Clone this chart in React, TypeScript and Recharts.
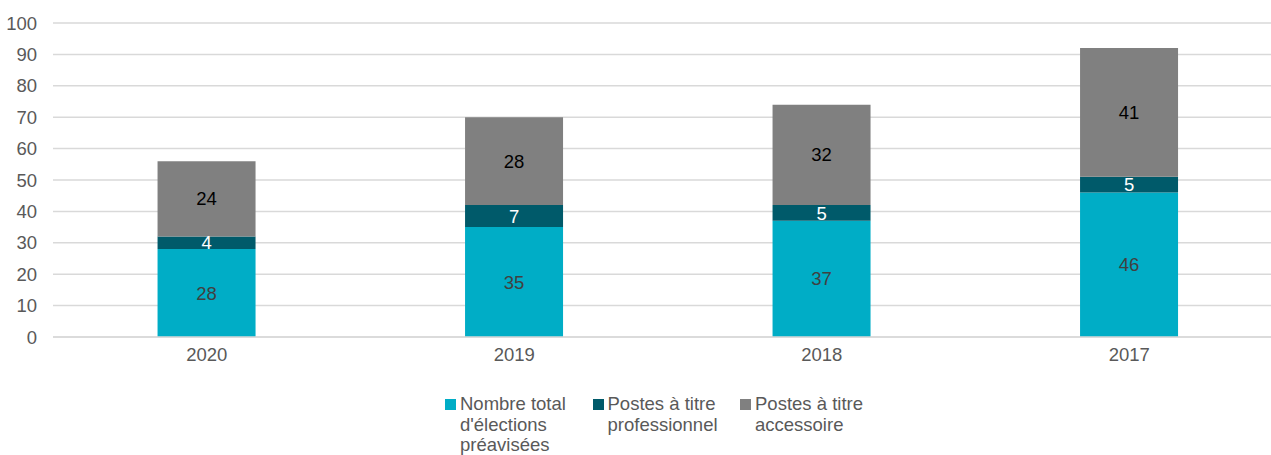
import { Bar, BarChart, CartesianGrid, LabelList, XAxis, YAxis } from 'recharts'

const years = ['2020', '2019', '2018', '2017']
const totalElections = [28, 35, 37, 46]
const professionnel = [4, 7, 5, 5]
const accessoire = [24, 28, 32, 41]
const yTicks = [0, 10, 20, 30, 40, 50, 60, 70, 80, 90, 100]

const series = [
  { key: 'total', name: "Nombre total d'élections préavisées", color: '#00ADC6', label: '#404040' },
  { key: 'pro', name: 'Postes à titre professionnel', color: '#005A6A', label: '#FFFFFF' },
  { key: 'acc', name: 'Postes à titre accessoire', color: '#808080', label: '#000000' },
]

const data = years.map((year, i) => ({
  year,
  total: totalElections[i],
  pro: professionnel[i],
  acc: accessoire[i],
}))

const font = '"Liberation Sans", Arial, sans-serif'
const fs = 18.5

export default function App() {
  return (
    <div style={{ position: 'absolute', left: 0, top: 0, width: 1271, height: 455, overflow: 'hidden', background: '#fff', fontFamily: font }}>
      <BarChart width={1290} height={367} data={data} margin={{ top: 23, right: 7, bottom: 0, left: 0 }} barCategoryGap="34%">
        <CartesianGrid vertical={false} stroke="#D9D9D9" strokeWidth={1.5} />
        <XAxis
          dataKey="year"
          axisLine={{ stroke: '#D9D9D9', strokeWidth: 1.5 }}
          tickLine={false}
          tickSize={0}
          tickMargin={11}
          tick={{ fill: '#595959', fontSize: fs, fontFamily: font }}
        />
        <YAxis
          domain={[0, 100]}
          ticks={yTicks}
          width={53}
          axisLine={false}
          tickLine={false}
          tickSize={0}
          tickMargin={16}
          tick={{ fill: '#595959', fontSize: fs, fontFamily: font }}
        />
        {series.map((s) => (
          <Bar key={s.key} dataKey={s.key} name={s.name} stackId="a" fill={s.color} isAnimationActive={false}>
            <LabelList dataKey={s.key} position="center" fill={s.label} fontSize={fs} fontFamily={font} />
          </Bar>
        ))}
      </BarChart>
      <div style={{ position: 'absolute', top: 394, left: 445, display: 'flex', fontSize: fs, lineHeight: '20.5px', color: '#595959' }}>
        {series.map((s) => (
          <div key={s.key} style={{ display: 'flex', width: 147.5 }}>
            <div style={{ width: 11, height: 11, background: s.color, marginTop: 5, marginRight: 4, flexShrink: 0 }} />
            <div style={{ width: 128 }}>{s.name}</div>
          </div>
        ))}
      </div>
    </div>
  )
}
